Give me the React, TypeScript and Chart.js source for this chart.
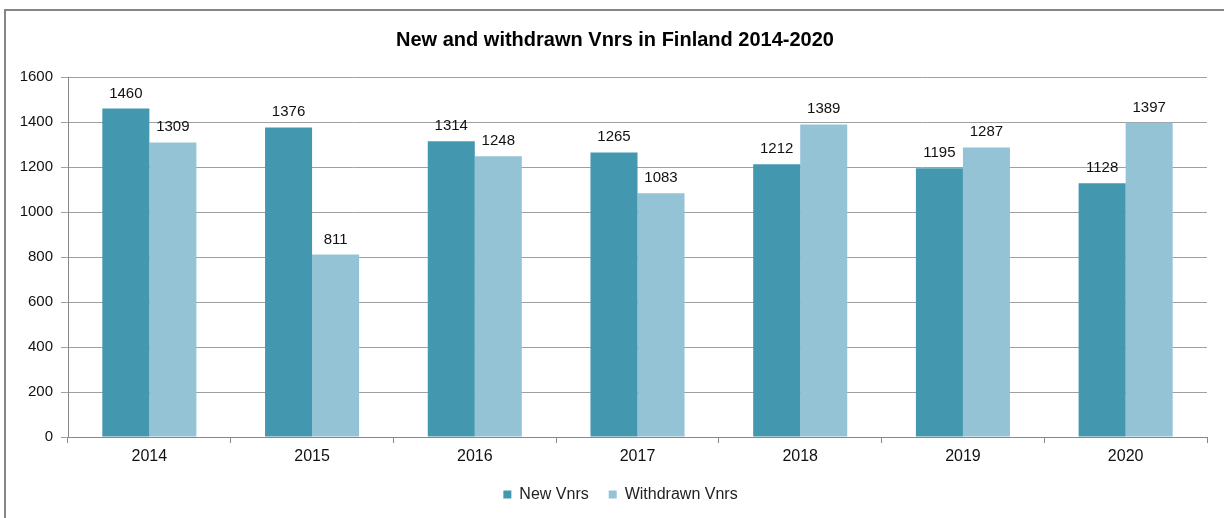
import React, { useEffect, useRef } from "react";
import { Chart, registerables } from "chart.js";

Chart.register(...registerables);

const categories = ["2014", "2015", "2016", "2017", "2018", "2019", "2020"];
const newVnrs = [1460, 1376, 1314, 1265, 1212, 1195, 1128];
const withdrawnVnrs = [1309, 811, 1248, 1083, 1389, 1287, 1397];
const yTicks = [0, 200, 400, 600, 800, 1000, 1200, 1400, 1600];
const titleText = "New and withdrawn Vnrs in Finland 2014-2020";
const seriesNames = ["New Vnrs", "Withdrawn Vnrs"];

const FONT = "'Liberation Sans', Arial, sans-serif";

const frameAndTitle = {
  id: "frameAndTitle",
  beforeDraw(chart: any) {
    const ctx = chart.ctx;
    ctx.save();
    ctx.fillStyle = "#ffffff";
    ctx.fillRect(0, 0, chart.width, chart.height);
    ctx.strokeStyle = "#858585";
    ctx.lineWidth = 2;
    ctx.strokeRect(5, 10, chart.width + 40, chart.height + 40);
    ctx.restore();
  },
  afterLayout(chart: any) {
    const lg = chart.legend;
    if (lg) {
      lg.left += 17;
      lg.right += 17;
    }
  },
  afterDraw(chart: any) {
    const ctx = chart.ctx;
    ctx.save();
    ctx.font = `bold 20px ${FONT}`;
    ctx.fillStyle = "#000000";
    ctx.textAlign = "center";
    ctx.textBaseline = "middle";
    ctx.fillText(titleText, 615, 40);
    ctx.restore();
  },
};

const barLabels = {
  id: "barLabels",
  afterDatasetsDraw(chart: any) {
    const ctx = chart.ctx;
    ctx.save();
    ctx.font = `15px ${FONT}`;
    ctx.fillStyle = "#111111";
    ctx.textAlign = "center";
    ctx.textBaseline = "alphabetic";
    chart.data.datasets.forEach((ds: any, i: number) => {
      const meta = chart.getDatasetMeta(i);
      meta.data.forEach((bar: any, j: number) => {
        ctx.fillText(String(ds.data[j]), bar.x, bar.y - 11);
      });
    });
    ctx.restore();
  },
};

export default function App() {
  const ref = useRef<HTMLCanvasElement | null>(null);
  useEffect(() => {
    document.body.style.margin = "0";
    const canvas = ref.current!;
    const chart = new Chart(canvas, {
      type: "bar",
      data: {
        labels: categories,
        datasets: [
          {
            label: seriesNames[0],
            data: newVnrs,
            backgroundColor: "#4398B0",
            barPercentage: 1,
            categoryPercentage: 0.578,
          },
          {
            label: seriesNames[1],
            data: withdrawnVnrs,
            backgroundColor: "#93C3D5",
            barPercentage: 1,
            categoryPercentage: 0.578,
          },
        ],
      },
      options: {
        responsive: false,
        animation: false,
        devicePixelRatio: 1,
        layout: { padding: { top: 77, right: 17, bottom: 5.5, left: 0 } },
        plugins: {
          title: { display: false },
          tooltip: { enabled: false },
          legend: {
            position: "bottom",
            labels: {
              boxWidth: 8,
              boxHeight: 8,
              padding: 20,
              color: "#222222",
              font: { family: FONT, size: 16 },
            },
          },
        },
        scales: {
          x: {
            grid: {
              display: true,
              offset: true,
              drawOnChartArea: false,
              drawTicks: true,
              tickLength: 6,
              color: "#888888",
            },
            border: { display: true, color: "#888888", width: 1 },
            ticks: {
              color: "#111111",
              padding: 4,
              font: { family: FONT, size: 16 },
            },
            afterFit(scale: any) {
              scale.height = 29.5;
            },
          },
          y: {
            min: 0,
            max: 1600,
            afterBuildTicks(scale: any) {
              scale.ticks = yTicks.map((v) => ({ value: v }));
            },
            grid: {
              color: "#A0A0A0",
              tickLength: 7,
              drawTicks: true,
            },
            border: { display: true, color: "#888888", width: 1 },
            ticks: {
              color: "#111111",
              padding: 8,
              font: { family: FONT, size: 15 },
              callback: (v: any) => String(v),
            },
            afterFit(scale: any) {
              scale.width = 68;
            },
          },
        },
      },
      plugins: [frameAndTitle, barLabels],
    });
    return () => chart.destroy();
  }, []);
  return (
    <div style={{ width: 1224, height: 518 }}>
      <canvas ref={ref} width={1224} height={518} style={{ display: "block" }} />
    </div>
  );
}
